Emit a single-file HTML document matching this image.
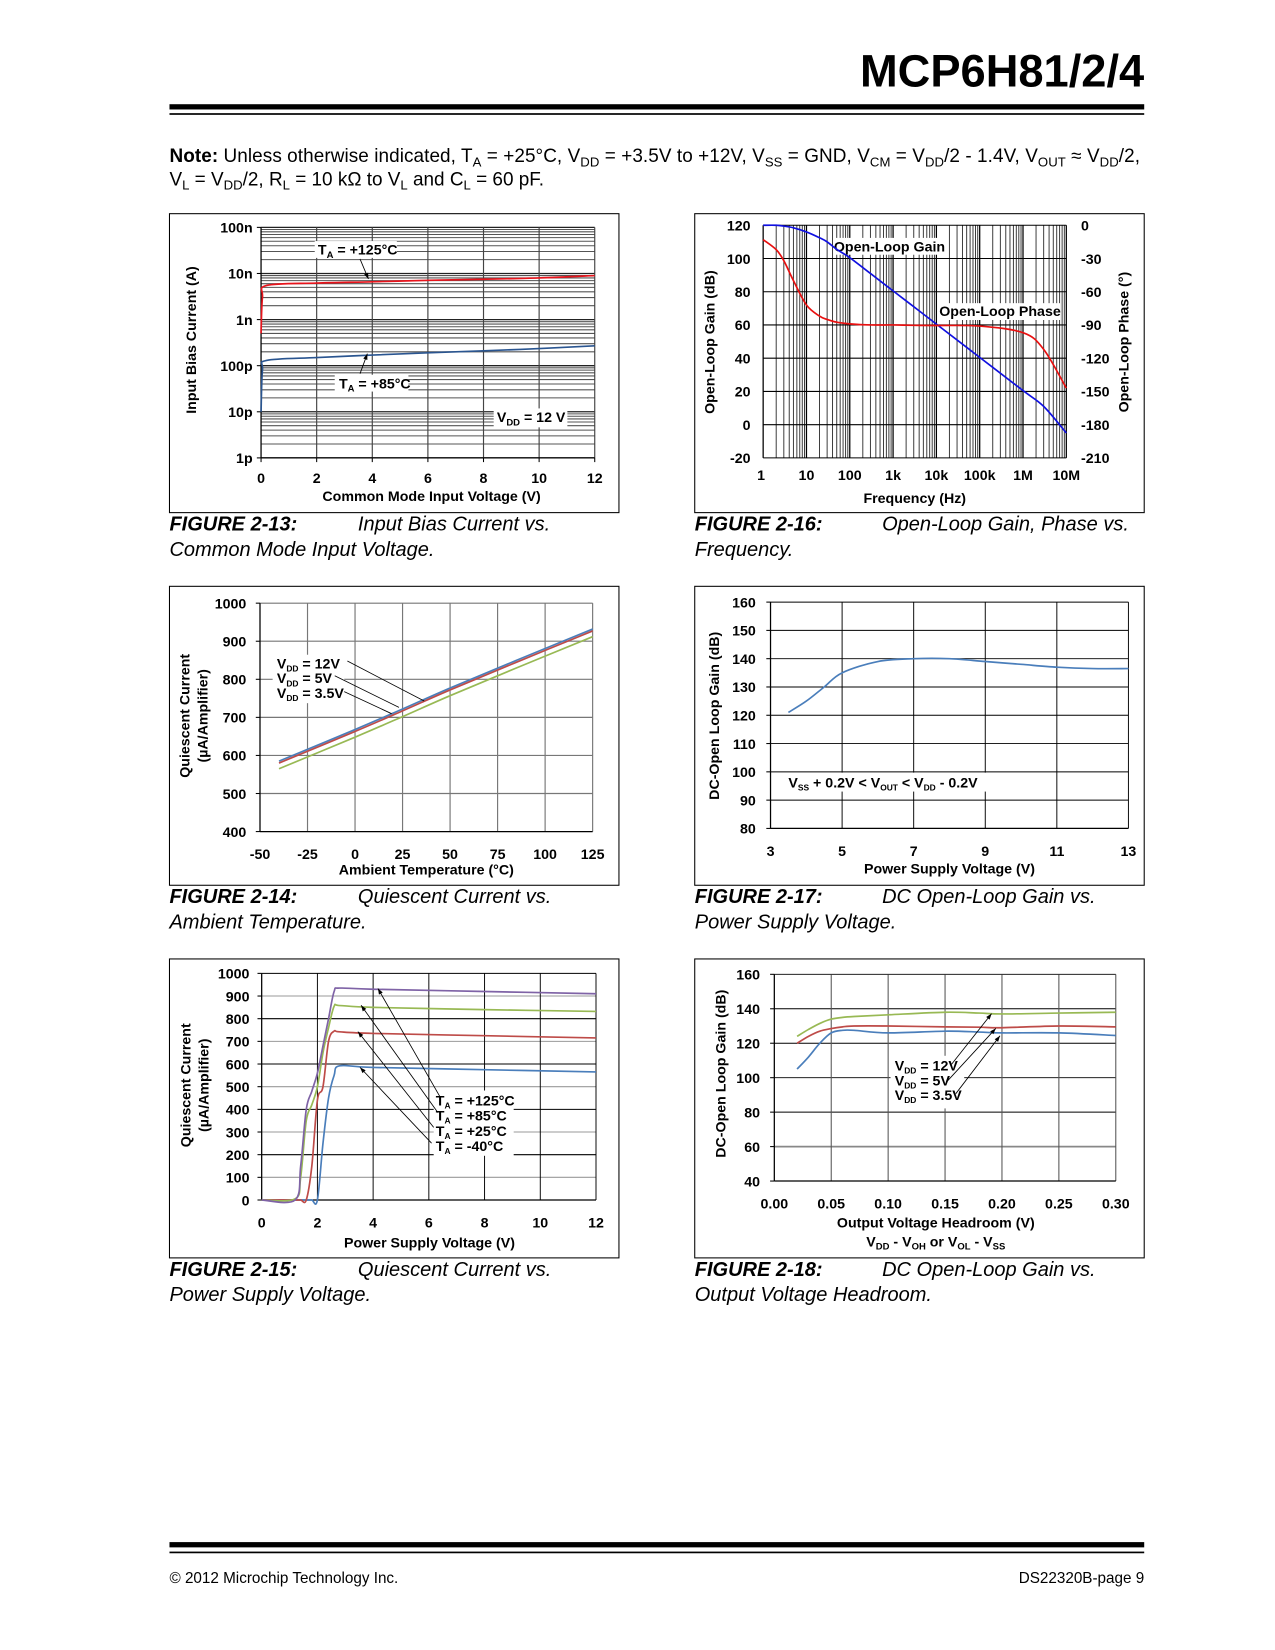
<!DOCTYPE html>
<html><head><meta charset="utf-8"><style>
html,body{margin:0;padding:0;background:#fff}
svg{display:block;font-family:"Liberation Sans",Arial,sans-serif}
.t{font-weight:bold;font-size:13.5px;fill:#000}
.ti{font-weight:bold;font-size:13.5px;fill:#000}
.cap{font-size:19px;font-style:italic;fill:#000}
</style></head><body>
<svg id="pg" width="1275" height="1650" viewBox="0 0 1211.25 1567.5">
<text x="1087" y="82" text-anchor="end" font-size="43" font-weight="bold">MCP6H81/2/4</text>
<rect x="161" y="99" width="926" height="5" fill="#000"/>
<rect x="161" y="107.5" width="926" height="1.6" fill="#000"/>
<text x="161" y="154" font-size="18" textLength="922" lengthAdjust="spacing"><tspan font-weight="bold">Note:</tspan> Unless otherwise indicated, T<tspan font-size="12.5" dy="4">A</tspan><tspan dy="-4"> = +25°C, V</tspan><tspan font-size="12.5" dy="4">DD</tspan><tspan dy="-4"> = +3.5V to +12V, V</tspan><tspan font-size="12.5" dy="4">SS</tspan><tspan dy="-4"> = GND, V</tspan><tspan font-size="12.5" dy="4">CM</tspan><tspan dy="-4"> = V</tspan><tspan font-size="12.5" dy="4">DD</tspan><tspan dy="-4">/2 - 1.4V, V</tspan><tspan font-size="12.5" dy="4">OUT</tspan><tspan dy="-4"> ≈ V</tspan><tspan font-size="12.5" dy="4">DD</tspan><tspan dy="-4">/2,</tspan></text>
<text x="161" y="176" font-size="18">V<tspan font-size="12.5" dy="4">L</tspan><tspan dy="-4"> = V</tspan><tspan font-size="12.5" dy="4">DD</tspan><tspan dy="-4">/2, R</tspan><tspan font-size="12.5" dy="4">L</tspan><tspan dy="-4"> = 10 kΩ to V</tspan><tspan font-size="12.5" dy="4">L</tspan><tspan dy="-4"> and C</tspan><tspan font-size="12.5" dy="4">L</tspan><tspan dy="-4"> = 60 pF.</tspan></text>

<g>
<text class="cap" x="161" y="504"><tspan font-weight="bold">FIGURE 2-13:</tspan><tspan x="340">Input Bias Current vs.</tspan><tspan x="161" dy="24">Common Mode Input Voltage.</tspan></text>
<text class="cap" x="660" y="504"><tspan font-weight="bold">FIGURE 2-16:</tspan><tspan x="838">Open-Loop Gain, Phase vs.</tspan><tspan x="660" dy="24">Frequency.</tspan></text>
<text class="cap" x="161" y="858"><tspan font-weight="bold">FIGURE 2-14:</tspan><tspan x="340">Quiescent Current vs.</tspan><tspan x="161" dy="24">Ambient Temperature.</tspan></text>
<text class="cap" x="660" y="858"><tspan font-weight="bold">FIGURE 2-17:</tspan><tspan x="838">DC Open-Loop Gain vs.</tspan><tspan x="660" dy="24">Power Supply Voltage.</tspan></text>
<text class="cap" x="161" y="1212"><tspan font-weight="bold">FIGURE 2-15:</tspan><tspan x="340">Quiescent Current vs.</tspan><tspan x="161" dy="24">Power Supply Voltage.</tspan></text>
<text class="cap" x="660" y="1212"><tspan font-weight="bold">FIGURE 2-18:</tspan><tspan x="838">DC Open-Loop Gain vs.</tspan><tspan x="660" dy="24">Output Voltage Headroom.</tspan></text>
</g>

<rect x="161" y="1465" width="926" height="5" fill="#000"/>
<rect x="161" y="1474" width="926" height="1.6" fill="#000"/>
<text x="161" y="1504" font-size="14.5">© 2012 Microchip Technology Inc.</text>
<text x="1087" y="1504" font-size="14.5" text-anchor="end">DS22320B-page 9</text>
</svg>
<script>
// ---- data ----
const c1X=[0,0.05,0.2,2,4,6,8,10,12];
const c1Hot=[0.5e-9,3e-9,5.5e-9,6.2e-9,6.6e-9,7.1e-9,7.5e-9,8e-9,9e-9];
const c1Warm=[10e-12,80e-12,130e-12,150e-12,170e-12,190e-12,210e-12,235e-12,270e-12];
const c1YTicks=["100n","10n","1n","100p","10p","1p"];
const c2F=[1,2,3,5,10,20,30,50,100,300,1000,3000,10000,100000,1000000,3000000,10000000];
const c2Gain=[120,120,119.5,118.5,116,112.5,110,105.5,100.5,91,80.5,71,60.5,40.5,20.5,11,-5];
const c2Phase=[-13,-22,-32,-50,-72,-82,-85,-87.5,-89,-90,-90,-90.3,-90.5,-91,-97,-112,-147];
const c3T=[-40,0,25,50,85,125];
const c3V12=[585,668,722,777,850,932];
const c3V5=[580,663,717,772,845,927];
const c3V35=[565,648,702,757,830,912];
const c4V=[3.5,4,4.5,5,6,7,8,9,10,11,12,13];
const c4G=[121,125,130,135,139,140,140,139,138,137,136.5,136.5];
const c5V=[0,1.2,1.4,1.6,1.8,2.0,2.2,2.4,2.6,2.8,4,8,12];
const c5T125=[0,0,150,400,480,560,680,800,920,935,930,920,910];
const c5T85=[0,5,100,350,420,500,650,760,855,858,850,840,832];
const c5T25=[0,0,0,0,150,440,500,700,745,742,735,725,715];
const c5Tm40=[0,0,0,0,0,0,250,450,550,592,585,575,565];
const c6X=[0.02,0.03,0.04,0.05,0.06,0.07,0.10,0.15,0.18,0.20,0.25,0.30];
const c6V12=[124,128,131.5,134,135,135.5,136.5,138,137.5,137,137.5,138];
const c6V5=[120,124,127,128.5,129.5,130,130,129.5,129.3,129,130,129.5];
const c6V35=[105,112,120,126,127.5,127.5,126,127,126.5,126,126,124.5];

const NS='http://www.w3.org/2000/svg', pg=document.getElementById('pg');
function mk(tag,attrs,parent,txt){const e=document.createElementNS(NS,tag);for(const k in attrs)e.setAttribute(k,attrs[k]);if(txt!==undefined)e.textContent=txt;(parent||pg).appendChild(e);return e;}
function grp(name){const g=mk('g',{});


return g;}
function series(g,xs,ys,sx,sy,color,name){const P=xs.map((x,i)=>[sx(x),sy(ys[i])]);
let d='M'+P[0][0].toFixed(2)+' '+P[0][1].toFixed(2);
for(let i=0;i<P.length-1;i++){const p0=P[Math.max(0,i-1)],p1=P[i],p2=P[i+1],p3=P[Math.min(P.length-1,i+2)];const k=1/6;
d+=` C${(p1[0]+(p2[0]-p0[0])*k).toFixed(2)} ${(p1[1]+(p2[1]-p0[1])*k).toFixed(2)} ${(p2[0]-(p3[0]-p1[0])*k).toFixed(2)} ${(p2[1]-(p3[1]-p1[1])*k).toFixed(2)} ${p2[0].toFixed(2)} ${p2[1].toFixed(2)}`;}
const p=mk('path',{d:d,fill:'none',stroke:color,'stroke-width':1.6,'stroke-linejoin':'round'},g);


return p;}
function frame(x,y,w,h,name){const r=mk('rect',{x:x,y:y,width:w,height:h,fill:'none',stroke:'#000','stroke-width':1});

}
function line(g,x1,y1,x2,y2,c,w){return mk('line',{x1:x1,y1:y1,x2:x2,y2:y2,stroke:c,'stroke-width':w||1},g);}
function txt(g,x,y,s,anchor,cls,rot){const a={x:x,y:y,'text-anchor':anchor||'middle',class:cls||'t'};if(rot)a.transform='rotate(-90 '+x+' '+y+')';return mk('text',a,g,s);}
function arrow(g,x1,y1,x2,y2){line(g,x1,y1,x2,y2,'#000',0.8);const a=Math.atan2(y2-y1,x2-x1),L=6;
mk('path',{d:`M${x2} ${y2} L${x2-L*Math.cos(a-0.35)} ${y2-L*Math.sin(a-0.35)} L${x2-L*Math.cos(a+0.35)} ${y2-L*Math.sin(a+0.35)}Z`,fill:'#000'},g);}
function label(g,x,y,w,h){mk('rect',{x:x,y:y,width:w,height:h,fill:'#fff'},g);}

// ===== Chart 1 =====
(function(){frame(161,203,427,284,'chart-input-bias-frame');
const L=248,R=565,T=216,B=435;const sx=v=>L+v/12*(R-L);const sy=v=>T+(-7-Math.log10(v))/5*(B-T);
const g=grp('chart-input-bias');
for(let d=-12;d<-7;d++)for(let m=1;m<10;m++){const y=sy(m*Math.pow(10,d));line(g,L,y,R,y,m==1?'#222':'#555',m==1?1.2:1);}
line(g,L,T,R,T,'#222',1.2);
for(let v=2;v<=12;v+=2)line(g,sx(v),T,sx(v),B,'#444',1.1);
line(g,L,T,L,B,'#000',1.2);line(g,L,B,R,B,'#000',1.2);
c1YTicks.forEach((s,i)=>{const y=T+i*(B-T)/5;txt(g,240,y+5,s,'end');line(g,L-4,y,L,y,'#000');});
for(let v=0;v<=12;v+=2){txt(g,sx(v),459,String(v));line(g,sx(v),B,sx(v),B+4,'#000');}
txt(g,410,476,'Common Mode Input Voltage (V)','middle','ti');
txt(g,186,323,'Input Bias Current (A)','middle','ti',1);
series(g,c1X,c1Hot,sx,sy,'#e8141c','series-125c');
series(g,c1X,c1Warm,sx,sy,'#2a5590','series-85c');
label(g,299,229,78,16);const a=txt(g,302,242,'');a.innerHTML='T<tspan font-size="9" dy="3">A</tspan><tspan dy="-3"> = +125°C</tspan>';
label(g,318,356,70,16);const b=txt(g,322,369,'');b.innerHTML='T<tspan font-size="9" dy="3">A</tspan><tspan dy="-3"> = +85°C</tspan>';
label(g,469,388,70,18);const c=txt(g,472,401,'');c.innerHTML='V<tspan font-size="9" dy="3">DD</tspan><tspan dy="-3"> = 12 V</tspan>';
[a,b,c].forEach(e=>e.setAttribute('text-anchor','start'));
arrow(g,342,246,350,265);arrow(g,342,355,349,336);})();

// ===== Chart 2 =====
(function(){frame(660,203,427,284,'chart-open-loop-frame');
const L=725,R=1013,T=214,B=435;const sx=f=>L+Math.log10(f)/7*(R-L);const sy=v=>T+(120-v)/140*(B-T);const sp=p=>sy(120+p*140/210);
const g=grp('chart-open-loop');
for(let d=0;d<7;d++)for(let m=1;m<10;m++){const x=sx(m*Math.pow(10,d));line(g,x,T,x,B,m==1?'#000':'#333',m==1?1.2:0.9);}
line(g,R,T,R,B,'#000',1.2);
for(let v=-20;v<=120;v+=20)line(g,L,sy(v),R,sy(v),'#000',1);
mk('rect',{x:794,y:226,width:102,height:16,fill:'#fff'},g);
mk('rect',{x:895,y:288,width:112,height:16,fill:'#fff'},g);
txt(g,845,239,'Open-Loop Gain','middle','t');txt(g,950,300,'Open-Loop Phase','middle','t');
for(let v=-20;v<=120;v+=20){txt(g,713,sy(v)+5,String(v),'end');}
[0,-30,-60,-90,-120,-150,-180,-210].forEach(p=>txt(g,1027,sp(p)+5,String(p),'start'));
['1','10','100','1k','10k','100k','1M','10M'].forEach((s,i)=>txt(g,L+i*(R-L)/7+(i==0?-2:0),456,s));
txt(g,869,478,'Frequency (Hz)','middle','ti');
txt(g,679,325,'Open-Loop Gain (dB)','middle','ti',1);
txt(g,1072,325,'Open-Loop Phase (°)','middle','ti',1);
series(g,c2F,c2Gain,sx,sy,'#1010e0','series-gain');
series(g,c2F,c2Phase,sx,sp,'#e81010','series-phase');})();

// ===== Chart 3 =====
(function(){frame(161,557,427,284,'chart-iq-temp-frame');
const L=247,R=563,T=573,B=790;const sx=t=>L+(t+50)/175*(R-L);const sy=i=>B-(i-400)/600*(B-T);
const g=grp('chart-iq-temp');
for(let v=500;v<=1000;v+=100)line(g,L,sy(v),R,sy(v),'#777',1.1);
for(let t=-25;t<=125;t+=25)line(g,sx(t),T,sx(t),B,'#777',1.1);
line(g,L,T,L,B,'#000',1.2);line(g,L,B,R,B,'#000',1.2);
for(let v=400;v<=1000;v+=100){txt(g,234,sy(v)+5,String(v),'end');line(g,L-4,sy(v),L,sy(v),'#000');}
for(let t=-50;t<=125;t+=25)txt(g,sx(t),816,String(t));
txt(g,405,831,'Ambient Temperature (°C)','middle','ti');
txt(g,180,680,'Quiescent Current','middle','ti',1);txt(g,197,680,'(µA/Amplifier)','middle','ti',1);
series(g,c3T,c3V12,sx,sy,'#4a7ebb','series-12v');
series(g,c3T,c3V5,sx,sy,'#be4b48','series-5v');
series(g,c3T,c3V35,sx,sy,'#98b954','series-3p5v');
label(g,259,622,68,46);
['12V','5V','3.5V'].forEach((s,i)=>{const e=txt(g,263,635+i*14,'','start');e.innerHTML='V<tspan font-size="8" dy="3">DD</tspan><tspan dy="-3"> = '+s+'</tspan>';});
line(g,330,628,403,666,'#000',0.8);line(g,318,642,379,672,'#000',0.8);line(g,327,657,372,678,'#000',0.8);})();

// ===== Chart 4 =====
(function(){frame(660,557,427,284,'chart-dc-gain-vdd-frame');
const L=732,R=1072,T=572,B=787;const sx=v=>L+(v-3)/10*(R-L);const sy=g=>B-(g-80)/80*(B-T);
const g=grp('chart-dc-gain-vdd');
for(let v=90;v<=160;v+=10)line(g,L,sy(v),R,sy(v),'#000',0.9);
for(let v=5;v<=13;v+=2)line(g,sx(v),T,sx(v),B,'#000',0.9);
line(g,L,T,L,B,'#000',1.2);line(g,L,B,R,B,'#000',1.2);
for(let v=80;v<=160;v+=10){txt(g,718,sy(v)+5,String(v),'end');line(g,L-4,sy(v),L,sy(v),'#000');}
for(let v=3;v<=13;v+=2)txt(g,sx(v),813,String(v));
txt(g,902,830,'Power Supply Voltage (V)','middle','ti');
txt(g,683,680,'DC-Open Loop Gain (dB)','middle','ti',1);
label(g,744,734,200,18);
const e=txt(g,749,748,'','start');e.innerHTML='V<tspan font-size="8" dy="3">SS</tspan><tspan dy="-3"> + 0.2V &lt; V</tspan><tspan font-size="8" dy="3">OUT</tspan><tspan dy="-3"> &lt; V</tspan><tspan font-size="8" dy="3">DD</tspan><tspan dy="-3"> - 0.2V</tspan>';
series(g,c4V,c4G,sx,sy,'#4a7ebb','series-gain');})();

// ===== Chart 5 =====
(function(){frame(161,911,427,284,'chart-iq-vdd-frame');
const L=248.6,R=566.2,T=924.7,B=1140;const sx=v=>L+v/12*(R-L);const sy=i=>B-i/1000*(B-T);
const g=grp('chart-iq-vdd');
for(let v=100;v<=1000;v+=100)line(g,L,sy(v),R,sy(v),v%200?'#999':'#000',1);
for(let v=2;v<=12;v+=2)line(g,sx(v),T,sx(v),B,'#000',0.9);
line(g,L,T,L,B,'#000',1.2);line(g,L,B,R,B,'#000',1.2);
for(let v=0;v<=1000;v+=100){txt(g,237,sy(v)+5,String(v),'end');line(g,L-4,sy(v),L,sy(v),'#000');}
for(let v=0;v<=12;v+=2)txt(g,sx(v),1166,String(v));
txt(g,408,1185,'Power Supply Voltage (V)','middle','ti');
txt(g,181,1031,'Quiescent Current','middle','ti',1);txt(g,198,1031,'(µA/Amplifier)','middle','ti',1);
series(g,c5V,c5Tm40,sx,sy,'#4a7ebb','series-minus40c');
series(g,c5V,c5T25,sx,sy,'#be4b48','series-25c');
series(g,c5V,c5T85,sx,sy,'#98b954','series-85c');
series(g,c5V,c5T125,sx,sy,'#7f63a6','series-125c');
label(g,412,1036,76,62);
['+125°C','+85°C','+25°C','-40°C'].forEach((s,i)=>{const e=txt(g,414,1050+i*14.5,'','start');e.innerHTML='T<tspan font-size="8" dy="3">A</tspan><tspan dy="-3"> = '+s+'</tspan>';});
arrow(g,418,1042,359,939);arrow(g,416,1057,343,955);arrow(g,412,1071,340,980);arrow(g,410,1086,342,1014);})();

// ===== Chart 6 =====
(function(){frame(660,911,427,284,'chart-dc-gain-headroom-frame');
const L=735.6,R=1060,T=925.6,B=1122;const sx=v=>L+v/0.3*(R-L);const sy=g=>B-(g-40)/120*(B-T);
const g=grp('chart-dc-gain-headroom');
for(let v=60;v<=160;v+=20)line(g,L,sy(v),R,sy(v),v==60?'#888':'#000',v==60?1.6:0.9);
for(let i=1;i<=6;i++)line(g,sx(i*0.05),T,sx(i*0.05),B,'#555',1);
line(g,L,T,L,B,'#000',1.2);line(g,L,B,R,B,'#000',1.2);
for(let v=40;v<=160;v+=20){txt(g,722,sy(v)+5,String(v),'end');line(g,L-4,sy(v),L,sy(v),'#000');}
for(let i=0;i<=6;i++)txt(g,sx(i*0.05),1148,(i*0.05).toFixed(2));
txt(g,889,1166,'Output Voltage Headroom (V)','middle','ti');
const e2=txt(g,889,1184,'','middle','ti');e2.innerHTML='V<tspan font-size="9" dy="3">DD</tspan><tspan dy="-3"> - V</tspan><tspan font-size="9" dy="3">OH</tspan><tspan dy="-3"> or V</tspan><tspan font-size="9" dy="3">OL</tspan><tspan dy="-3"> - V</tspan><tspan font-size="9" dy="3">SS</tspan>';
txt(g,689,1020,'DC-Open Loop Gain (dB)','middle','ti',1);
series(g,c6X,c6V12,sx,sy,'#98b954','series-12v');
series(g,c6X,c6V5,sx,sy,'#be4b48','series-5v');
series(g,c6X,c6V35,sx,sy,'#4a7ebb','series-3p5v');
label(g,846,1003,70,50);
['12V','5V','3.5V'].forEach((s,i)=>{const e=txt(g,850,1017+i*14,'','start');e.innerHTML='V<tspan font-size="8" dy="3">DD</tspan><tspan dy="-3"> = '+s+'</tspan>';});
arrow(g,904,1011,942,963);arrow(g,900,1027,946,977);arrow(g,908,1039,950,984);})();
</script>
</body></html>
